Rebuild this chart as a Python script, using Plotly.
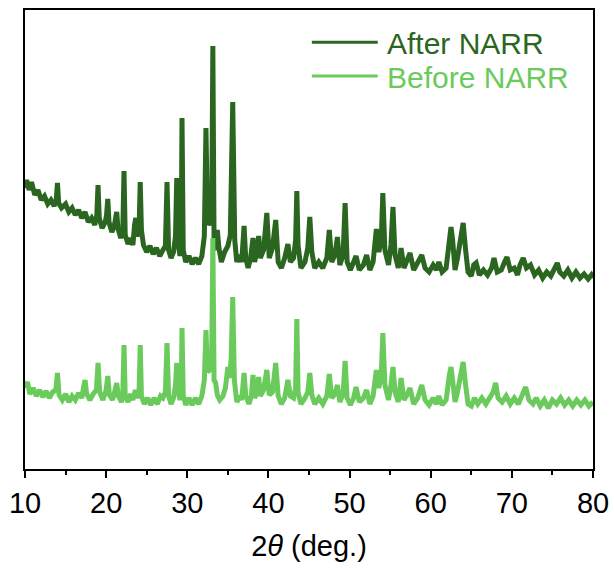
import plotly.graph_objects as go

# 2theta (deg.) and intensity (a.u.)
after_2theta = [10.0, 10.2, 10.5, 10.8, 11.2, 11.6, 12.0, 12.4, 12.8, 13.2, 13.6, 13.85, 14.0, 14.15, 14.5, 15.0, 15.4, 15.8, 16.2, 16.6, 17.0, 17.4, 17.8, 18.2, 18.6, 18.85, 19.0, 19.15, 19.5, 19.9, 20.05, 20.2, 20.35, 20.7, 21.0, 21.15, 21.3, 21.45, 21.8, 22.05, 22.2, 22.35, 22.7, 23.0, 23.3, 23.5, 23.65, 23.8, 24.05, 24.2, 24.35, 24.6, 25.0, 25.4, 25.8, 26.2, 26.6, 27.0, 27.3, 27.5, 27.7, 28.0, 28.3, 28.55, 28.7, 28.85, 29.1, 29.25, 29.35, 29.5, 29.8, 30.2, 30.6, 31.0, 31.4, 31.8, 32.1, 32.3, 32.5, 32.75, 33.0, 33.15, 33.3, 33.5, 33.7, 33.9, 34.2, 34.6, 35.0, 35.3, 35.6, 35.85, 36.1, 36.4, 36.7, 37.0, 37.2, 37.5, 37.8, 38.1, 38.3, 38.6, 38.8, 39.0, 39.4, 39.8, 40.1, 40.5, 40.9, 41.2, 41.6, 42.0, 42.4, 42.7, 43.1, 43.35, 43.5, 43.65, 44.0, 44.5, 44.85, 45.1, 45.35, 45.7, 46.2, 46.7, 47.2, 47.5, 47.8, 48.2, 48.5, 48.8, 49.2, 49.45, 49.7, 50.1, 50.5, 50.8, 51.2, 51.7, 52.1, 52.5, 52.9, 53.3, 53.6, 53.9, 54.1, 54.35, 54.8, 55.1, 55.35, 55.6, 56.0, 56.35, 56.7, 57.0, 57.45, 57.9, 58.4, 58.9, 59.3, 59.8, 60.3, 60.7, 61.0, 61.4, 61.9, 62.3, 62.5, 62.7, 63.0, 63.3, 63.6, 64.0, 64.3, 64.6, 65.0, 65.3, 65.6, 66.0, 66.5, 67.0, 67.5, 67.8, 68.2, 68.7, 69.1, 69.4, 69.8, 70.3, 70.7, 71.0, 71.4, 71.8, 72.3, 72.8, 73.3, 73.8, 74.3, 74.8, 75.3, 75.6, 75.9, 76.4, 76.9, 77.4, 77.9, 78.4, 78.9, 79.4, 79.8, 80.0]
after_intensity = [281, 289, 279, 287, 274, 279, 269, 273, 265, 269, 263, 269, 286, 266, 261, 265, 257, 261, 254, 259, 251, 257, 247, 251, 244, 254, 284, 251, 241, 247, 254, 270, 247, 237, 243, 249, 257, 241, 231, 237, 298, 234, 225, 231, 224, 244, 251, 233, 237, 287, 239, 224, 217, 223, 215, 221, 213, 219, 223, 287, 219, 211, 217, 233, 291, 229, 213, 224, 351, 219, 207, 213, 205, 211, 205, 213, 233, 341, 244, 249, 244, 423, 229, 219, 239, 221, 207, 217, 223, 234, 367, 229, 207, 214, 207, 243, 211, 201, 211, 231, 207, 219, 233, 211, 219, 256, 211, 221, 249, 207, 201, 211, 225, 207, 211, 229, 278, 224, 201, 207, 221, 252, 217, 201, 207, 201, 211, 239, 207, 214, 232, 204, 214, 266, 207, 199, 207, 213, 199, 204, 214, 199, 207, 240, 217, 229, 276, 219, 204, 224, 262, 214, 201, 221, 201, 207, 216, 199, 207, 214, 201, 197, 204, 199, 207, 197, 201, 229, 242, 229, 199, 211, 229, 246, 219, 197, 193, 204, 206, 194, 199, 194, 201, 211, 197, 199, 207, 212, 199, 201, 194, 204, 211, 201, 204, 194, 199, 191, 197, 193, 201, 206, 197, 193, 199, 191, 197, 191, 195, 190, 194, 191]

before_2theta = [10.0, 10.3, 10.6, 11.0, 11.4, 11.8, 12.2, 12.6, 13.0, 13.4, 13.8, 14.0, 14.2, 14.6, 15.0, 15.4, 15.8, 16.2, 16.6, 17.0, 17.2, 17.4, 17.6, 18.0, 18.4, 18.8, 19.0, 19.2, 19.6, 20.0, 20.2, 20.4, 20.8, 21.1, 21.3, 21.5, 21.9, 22.05, 22.2, 22.35, 22.7, 23.0, 23.3, 23.6, 23.9, 24.05, 24.2, 24.35, 24.7, 25.1, 25.5, 25.9, 26.3, 26.7, 27.0, 27.3, 27.5, 27.7, 28.0, 28.3, 28.55, 28.7, 28.85, 29.1, 29.25, 29.35, 29.5, 29.8, 30.2, 30.6, 31.0, 31.4, 31.8, 32.1, 32.3, 32.5, 32.75, 33.0, 33.15, 33.3, 33.5, 33.7, 34.0, 34.4, 34.7, 35.0, 35.2, 35.4, 35.6, 35.8, 36.1, 36.5, 36.7, 37.0, 37.2, 37.6, 37.9, 38.1, 38.3, 38.6, 38.8, 39.0, 39.4, 39.8, 40.1, 40.5, 40.9, 41.2, 41.6, 42.0, 42.4, 42.7, 43.1, 43.35, 43.5, 43.65, 44.0, 44.5, 44.85, 45.1, 45.35, 45.7, 46.2, 46.7, 47.2, 47.5, 47.8, 48.2, 48.5, 48.8, 49.2, 49.45, 49.7, 50.1, 50.5, 50.8, 51.2, 51.7, 52.1, 52.5, 52.9, 53.3, 53.6, 53.9, 54.1, 54.35, 54.8, 55.1, 55.35, 55.6, 56.0, 56.35, 56.7, 57.0, 57.45, 57.9, 58.4, 58.9, 59.3, 59.8, 60.3, 60.7, 61.0, 61.4, 61.9, 62.3, 62.5, 62.7, 63.0, 63.3, 63.6, 64.0, 64.3, 64.6, 65.0, 65.4, 65.8, 66.3, 66.8, 67.3, 67.7, 68.0, 68.3, 68.8, 69.3, 69.8, 70.3, 70.8, 71.3, 71.7, 72.1, 72.6, 73.0, 73.5, 74.0, 74.5, 75.0, 75.5, 76.0, 76.5, 77.0, 77.5, 78.0, 78.5, 79.0, 79.5, 80.0]
before_intensity = [81, 87, 75, 81, 73, 79, 72, 78, 71, 77, 79, 96, 74, 69, 75, 67, 73, 69, 76, 71, 81, 89, 75, 69, 75, 79, 106, 77, 69, 79, 93, 74, 69, 77, 86, 73, 67, 74, 124, 73, 67, 75, 69, 79, 71, 75, 124, 73, 65, 71, 64, 71, 65, 73, 71, 77, 126, 73, 65, 71, 84, 106, 79, 69, 77, 141, 74, 64, 71, 64, 71, 65, 73, 89, 139, 97, 99, 104, 231, 89, 86, 74, 69, 73, 81, 102, 91, 109, 172, 89, 67, 73, 69, 96, 74, 65, 73, 94, 71, 77, 92, 73, 79, 99, 74, 77, 106, 73, 65, 71, 89, 73, 71, 81, 150, 77, 65, 71, 77, 96, 74, 65, 71, 65, 73, 95, 71, 75, 84, 67, 75, 108, 71, 64, 71, 82, 67, 71, 79, 65, 73, 99, 81, 94, 136, 84, 69, 84, 102, 77, 67, 91, 69, 73, 81, 65, 71, 84, 69, 64, 71, 65, 73, 64, 69, 94, 102, 89, 67, 77, 91, 107, 84, 65, 63, 71, 65, 71, 65, 71, 77, 86, 71, 67, 73, 65, 71, 65, 73, 82, 69, 65, 71, 63, 69, 61, 69, 65, 71, 64, 69, 63, 69, 64, 69, 63, 67]

series_names = ["After NARR", "Before NARR"]
x_ticks = [10, 20, 30, 40, 50, 60, 70, 80]

DARK = "#2b6621"
LIGHT = "#6acb5c"
FONT = "Liberation Sans, Arial, sans-serif"

fig = go.Figure()
fig.add_trace(go.Scatter(x=after_2theta, y=after_intensity, mode="lines",
                         name=series_names[0], line=dict(color=DARK, width=5),
                         showlegend=False))
fig.add_trace(go.Scatter(x=before_2theta, y=before_intensity, mode="lines",
                         name=series_names[1], line=dict(color=LIGHT, width=5),
                         showlegend=False))

# legend drawn manually (long line samples, coloured text)
legend_rows = [(0.930, 0.928, DARK, series_names[0]), (0.856, 0.854, LIGHT, series_names[1])]
for ly, ty, col, name in legend_rows:
    fig.add_shape(type="line", xref="paper", yref="paper", x0=0.505, x1=0.621,
                  y0=ly, y1=ly, line=dict(color=col, width=3))
    fig.add_annotation(xref="paper", yref="paper", x=0.634, y=ty, text=name,
                       showarrow=False, xanchor="left", yanchor="middle",
                       font=dict(family=FONT, size=30, color=col))

fig.update_layout(
    width=614, height=569,
    margin=dict(l=25, r=21, t=10, b=100, autoexpand=False),
    plot_bgcolor="white", paper_bgcolor="white",
    font=dict(family=FONT, color="black"),
)
fig.update_xaxes(
    range=[10, 80], tickvals=x_ticks, ticks="outside", ticklen=7, tickwidth=2,
    tickcolor="black", showgrid=False, zeroline=False, automargin=False,
    showline=True, linecolor="black", linewidth=2, mirror=True,
    tickfont=dict(family=FONT, size=29, color="black"),
    minor=dict(ticks="outside", ticklen=4, tickwidth=2, tickcolor="black", dtick=5, tick0=15, showgrid=False),
    title=dict(text="2<i>θ</i> (deg.)", font=dict(family=FONT, size=29, color="black"), standoff=18),
)
fig.update_yaxes(
    range=[0, 459], showticklabels=False, ticks="", showgrid=False, zeroline=False,
    automargin=False,
    showline=True, linecolor="black", linewidth=2, mirror=True,
)

fig.write_html("out.html")
